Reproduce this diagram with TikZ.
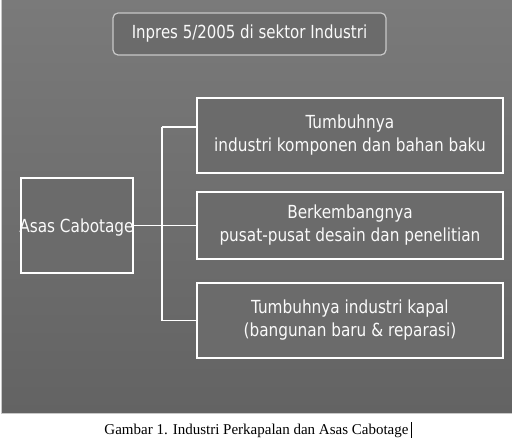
\documentclass[tikz,border=0pt]{standalone}
\usepackage{fontspec}
\setmainfont{Liberation Serif}
\newfontfamily\boxfont{DejaVu Sans Condensed}
\newcommand\sq[1]{\scalebox{0.945}[1]{#1}}
\newcommand\sqt[1]{\scalebox{0.925}[1]{#1}}
\begin{document}
\begin{tikzpicture}[x=1pt,y=-1pt,
  bx/.style={draw=white,line width=1.3pt,fill=boxgray,rectangle,inner sep=0pt,
     text=textwhite,font=\boxfont\fontsize{18}{23}\selectfont,align=center},
  conn/.style={draw=white,line width=1.3pt}]
\definecolor{boxgray}{HTML}{6B6B6B}
\definecolor{textwhite}{HTML}{FAFAFA}
\definecolor{bgtop}{HTML}{7A7A7A}
\definecolor{bgbot}{HTML}{636363}
\definecolor{edge}{HTML}{C8C8C8}
\useasboundingbox (0,0) rectangle (512,441);
\fill[white] (0,0) rectangle (512,441);
\shade[top color=bgtop,bottom color=bgbot] (2,0) rectangle (512,413);
\draw[edge,line width=1pt] (1.5,0) -- (1.5,413.5) -- (512,413.5);
% title
\node[bx,draw=edge,line width=1.2pt,rounded corners=5pt,minimum width=273pt,minimum height=42pt] (title) at (249.5,34) {\sqt{Inpres 5/2005 di sektor Industri}};
% boxes
\node[bx,minimum width=112pt,minimum height=95pt] (asas) at (77,225.5) {};
\node[text=textwhite,font=\boxfont\fontsize{18}{23}\selectfont,inner sep=0pt] (asastxt) at (76.5,227.5) {\sq{Asas Cabotage}};
\node[bx,minimum width=306pt,minimum height=75pt] (b1) at (350,135.5) {\sq{Tumbuhnya}\\\sq{industri komponen dan bahan baku}};
\node[bx,minimum width=306pt,minimum height=67pt] (b2) at (350,225.5) {\sq{Berkembangnya}\\\sq{pusat-pusat desain dan penelitian}};
\node[bx,minimum width=306pt,minimum height=75pt] (b3) at (350,320.5) {\sq{Tumbuhnya industri kapal}\\\sq{(bangunan baru \& reparasi)}};
% connectors
\coordinate (j1) at (162,127);
\coordinate (j3) at (162,320.5);
\draw[conn] (asas.east) -- (b2.west);
\draw[conn] (j1) -- (j3);
\draw[conn] (j1) -- (j1 -| b1.west);
\draw[conn] (j3) -- (b3.west);
% caption
\node[anchor=base,inner sep=0pt,font=\fontsize{15}{18}\selectfont] (cap) at (256.5,434) {Gambar 1. Industri Perkapalan dan Asas Cabotage};
\draw[black,line width=0.9pt] (411,422) -- (411,438);
\end{tikzpicture}
\end{document}
